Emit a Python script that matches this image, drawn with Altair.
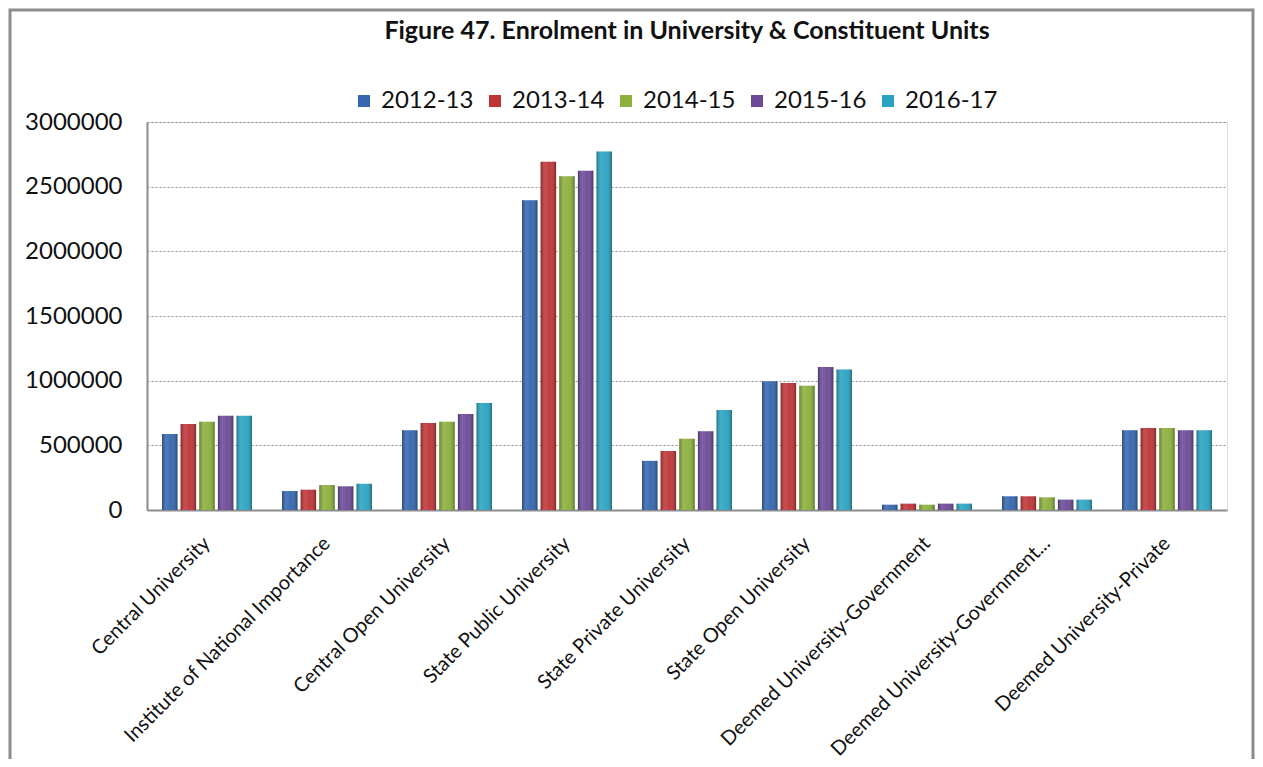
import altair as alt
import pandas as pd

categories = [
    "Central University",
    "Institute of National Importance",
    "Central Open University",
    "State Public University",
    "State Private University",
    "State Open University",
    "Deemed University-Government",
    "Deemed University-Government...",
    "Deemed University-Private",
]
years = ["2012-13", "2013-14", "2014-15", "2015-16", "2016-17"]
v_2012_13 = [588000, 147000, 616000, 2395000, 380000, 995000, 41000, 106000, 616000]
v_2013_14 = [665000, 157000, 673000, 2693000, 457000, 982000, 49000, 106000, 634000]
v_2014_15 = [683000, 193000, 683000, 2581000, 550000, 961000, 41000, 98000, 634000]
v_2015_16 = [729000, 183000, 742000, 2624000, 609000, 1106000, 49000, 80000, 616000]
v_2016_17 = [729000, 203000, 827000, 2771000, 774000, 1087000, 49000, 80000, 616000]
y_ticks = [0, 500000, 1000000, 1500000, 2000000, 2500000, 3000000]
colors = ["#3567AF", "#BE3537", "#8CB03C", "#6D4A98", "#2AA3C2"]

series = [v_2012_13, v_2013_14, v_2014_15, v_2015_16, v_2016_17]
rows = []
for yr, vals in zip(years, series):
    for cat, v in zip(categories, vals):
        rows.append({"category": cat, "year": yr, "value": v})
df = pd.DataFrame(rows)

FONT = "Lato"

x_enc = alt.X(
    "category:N",
    sort=categories,
    scale=alt.Scale(paddingInner=0.25, paddingOuter=0.125),
    axis=alt.Axis(
        title=None,
        labelAngle=-45,
        labelAlign="right",
        labelBaseline="middle",
        labelPadding=30,
        labelFontSize=20,
        labelFont=FONT,
        labelColor="#111111",
        ticks=False,
        domainColor="#8c8c8c",
        domainWidth=2,
        labelLimit=400,
    ),
)
xoff_enc = alt.XOffset("year:N", sort=years, scale=alt.Scale(paddingInner=0.17, paddingOuter=0))
y_enc = alt.Y(
    "value:Q",
    scale=alt.Scale(domain=[0, 3000000], nice=False),
    axis=alt.Axis(
        title=None,
        values=y_ticks,
        format="d",
        labelFontSize=24,
        labelFont=FONT,
        labelColor="#111111",
        labelPadding=25,
        ticks=False,
        domainColor="#8c8c8c",
        domainWidth=2,
        grid=True,
        gridDash=[2, 2],
        gridColor="#8c8c8c",
        gridWidth=1,
    ),
)

bars = alt.Chart(df).mark_bar().encode(
    x=x_enc,
    xOffset=xoff_enc,
    y=y_enc,
    color=alt.Color(
        "year:N",
        sort=years,
        scale=alt.Scale(domain=years, range=colors),
        legend=alt.Legend(
            title=None,
            orient="none",
            direction="horizontal",
            legendX=205,
            legendY=-33,
            symbolType="square",
            symbolSize=144,
            symbolStrokeWidth=0,
            symbolOpacity=1,
            labelFontSize=24,
            labelFont=FONT,
            labelColor="#111111",
            labelOffset=5,
            columnPadding=9,
            padding=0,
        ),
    ),
)

shade = alt.Chart(df).mark_bar(
    color=alt.LinearGradient(
        gradient="linear",
        x1=0, x2=1, y1=0, y2=0,
        stops=[
            alt.GradientStop(color="rgba(0,0,0,0.30)", offset=0),
            alt.GradientStop(color="rgba(255,255,255,0.12)", offset=0.3),
            alt.GradientStop(color="rgba(255,255,255,0.04)", offset=0.6),
            alt.GradientStop(color="rgba(0,0,0,0.32)", offset=1),
        ],
    )
).encode(x=x_enc, xOffset=xoff_enc, y=y_enc)

frame = alt.Chart(pd.DataFrame({"a": [0]})).mark_rect(
    fillOpacity=0, stroke="#8c8c8c", strokeWidth=3
).encode(
    x=alt.value(-137), x2=alt.value(1106), y=alt.value(-112), y2=alt.value(720)
)

chart = (
    alt.layer(bars, shade, frame)
    .properties(
        width=1080,
        height=388,
        autosize=alt.AutoSizeParams(type="none"),
        padding={"left": 139, "top": 114, "right": 28, "bottom": 249},
        title=alt.TitleParams(
            "Figure 47. Enrolment in University & Constituent Units",
            anchor="middle",
            fontSize=25,
            font=FONT,
            fontWeight="bold",
            color="#111111",
            offset=0,
            dy=35,
        ),
    )
    .configure_view(stroke=None)
    .configure(background="white")
)

chart.save("out.html", embed_options={"renderer": "svg", "actions": False})
